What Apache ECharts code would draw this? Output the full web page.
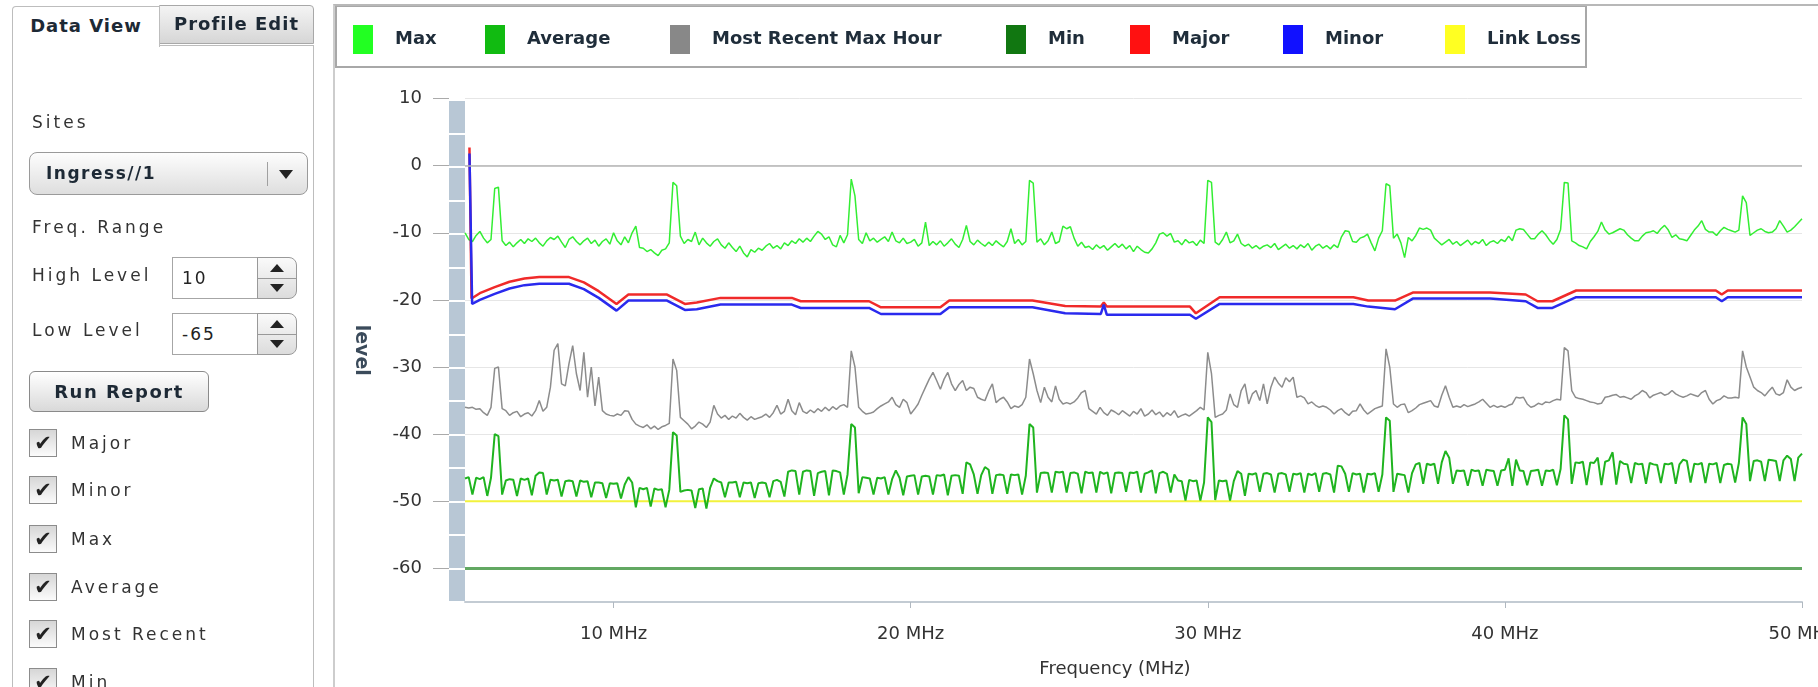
<!DOCTYPE html>
<html>
<head>
<meta charset="utf-8">
<title>Spectrum report</title>
<script src="https://cdn.jsdelivr.net/npm/echarts@6.0.0/dist/echarts.min.js"></script>
<style>
  html, body { margin: 0; padding: 0; background: #fff; }
  body { width: 1818px; height: 687px; overflow: hidden; position: relative; font-family: 'DejaVu Sans', sans-serif; color: #333; }
  #chart { position: absolute; left: 0; top: 0; width: 1818px; height: 687px; }
  #frame { position: absolute; left: 333px; top: 4px; width: 1500px; height: 700px; border-left: 2px solid #cdcdcd; border-top: 2px solid #b8b8b8; pointer-events: none; }

  .tab { position: absolute; box-sizing: border-box; font-weight: bold; font-size: 18px; letter-spacing: 1px; color: #1d2935; text-align: center; }
  #tabData { left: 12px; top: 6px; width: 148px; height: 41px; line-height: 38px; background: #fff; border: 1px solid #bdbdbd; border-bottom: none; border-radius: 4px 0 0 0; z-index: 2; }
  #tabProfile { left: 159px; top: 5px; width: 155px; height: 39px; line-height: 35px; background: linear-gradient(#f4f4f4, #d6d6d6); border: 1px solid #a8a8a8; border-radius: 0 4px 0 0; }
  #panel { position: absolute; left: 12px; top: 45px; width: 302px; height: 700px; box-sizing: border-box; border: 1px solid #bdbdbd; background: #fff; }

  .lbl { position: absolute; height: 24px; line-height: 24px; font-size: 17px; letter-spacing: 3px; color: #333; white-space: nowrap; }

  #sites { position: absolute; left: 29px; top: 152px; width: 279px; height: 43px; box-sizing: border-box; border: 1px solid #9a9a9a; border-radius: 8px; background: linear-gradient(#fdfdfd, #dedede); }
  #sites .val { position: absolute; left: 16px; top: 0; line-height: 41px; font-weight: bold; font-size: 17px; letter-spacing: 1.5px; color: #1d2935; }
  #sites .sep { position: absolute; left: 237px; top: 9px; width: 1px; height: 24px; background: #a0a0a0; }
  #sites .arr { position: absolute; left: 249px; top: 17px; width: 0; height: 0; border-left: 7px solid transparent; border-right: 7px solid transparent; border-top: 9px solid #222; }

  .num { position: absolute; left: 172px; width: 86px; height: 42px; box-sizing: border-box; border: 1px solid #a6a6a6; background: #fff; font-size: 17px; letter-spacing: 2px; line-height: 40px; padding-left: 9px; color: #222; }
  .spin { position: absolute; left: 257px; width: 40px; height: 42px; box-sizing: border-box; border: 1px solid #999; border-radius: 0 8px 8px 0; background: linear-gradient(#fafafa, #dcdcdc); }
  .spin .mid { position: absolute; left: 0; right: 0; top: 20px; height: 1px; background: #999; }
  .spin .up { position: absolute; left: 12px; top: 6px; width: 0; height: 0; border-left: 7px solid transparent; border-right: 7px solid transparent; border-bottom: 8px solid #222; }
  .spin .dn { position: absolute; left: 12px; top: 26px; width: 0; height: 0; border-left: 7px solid transparent; border-right: 7px solid transparent; border-top: 8px solid #222; }

  #run { position: absolute; left: 29px; top: 371px; width: 180px; height: 41px; box-sizing: border-box; border: 1px solid #8a8a8a; border-radius: 6px; background: linear-gradient(#ffffff, #d9d9d9); font-weight: bold; font-size: 18px; letter-spacing: 1.5px; line-height: 39px; text-align: center; color: #1d2935; }

  .cb { position: absolute; left: 29px; width: 28px; height: 28px; box-sizing: border-box; border: 1px solid #8c8c8c; background: linear-gradient(#d6d6d6, #fbfbfb); font-size: 21px; line-height: 26px; text-align: center; color: #222; }
</style>
</head>
<body>
<div id="chart"></div>
<div id="frame"></div>

<div id="panel"></div>
<div class="tab" id="tabData">Data View</div>
<div class="tab" id="tabProfile">Profile Edit</div>

<div class="lbl" style="left:32px; top:110px;">Sites</div>
<div id="sites"><span class="val">Ingress//1</span><span class="sep"></span><span class="arr"></span></div>
<div class="lbl" style="left:32px; top:215px;">Freq. Range</div>

<div class="lbl" style="left:32px; top:263px;">High Level</div>
<div class="num" style="top:257px;">10</div>
<div class="spin" style="top:257px;"><span class="up"></span><span class="mid"></span><span class="dn"></span></div>

<div class="lbl" style="left:32px; top:318px;">Low Level</div>
<div class="num" style="top:313px;">-65</div>
<div class="spin" style="top:313px;"><span class="up"></span><span class="mid"></span><span class="dn"></span></div>

<div id="run">Run Report</div>

<div class="cb" style="top:429px;">✔</div><div class="lbl" style="left:71px; top:431px;">Major</div>
<div class="cb" style="top:476px;">✔</div><div class="lbl" style="left:71px; top:478px;">Minor</div>
<div class="cb" style="top:525px;">✔</div><div class="lbl" style="left:71px; top:527px;">Max</div>
<div class="cb" style="top:573px;">✔</div><div class="lbl" style="left:71px; top:575px;">Average</div>
<div class="cb" style="top:620px;">✔</div><div class="lbl" style="left:71px; top:622px;">Most Recent</div>
<div class="cb" style="top:668px;">✔</div><div class="lbl" style="left:71px; top:670px;">Min</div>

<script>
// sampled traces: one value every 0.125 MHz from 5 MHz to 50 MHz (8 per row)
const freqStart = 5;
const freqEnd = 50;
const freqStep = 0.125;
const freqTicks = [10, 20, 30, 40, 50];

const maxLevel = [
  -10.0, -11.0, -11.3, -10.4, -9.8, -10.8, -11.5, -11.0,   // 5
  -3.4, -3.2, -11.2, -11.9, -11.4, -12.1, -11.5, -11.0,    // 6
  -11.6, -10.9, -11.3, -10.8, -11.5, -12.0, -11.2, -10.7,  // 7
  -11.0, -10.5, -11.4, -12.2, -11.0, -10.6, -11.3, -11.8,  // 8
  -11.2, -10.8, -11.6, -11.1, -12.0, -11.3, -10.9, -11.7,  // 9
  -10.0, -11.2, -11.8, -10.6, -11.5, -10.0, -9.0, -12.2,   // 10
  -12.3, -12.8, -12.5, -13.0, -13.4, -12.6, -12.4, -11.5,  // 11
  -2.5, -3.0, -10.5, -11.6, -11.0, -11.3, -9.9, -11.8,     // 12
  -10.8, -11.5, -12.0, -11.3, -10.9, -11.8, -12.3, -11.5,  // 13
  -12.2, -12.8, -12.0, -13.0, -13.6, -12.5, -12.9, -12.3,  // 14
  -12.6, -12.0, -11.6, -12.3, -11.9, -12.4, -11.5, -11.9,  // 15
  -11.2, -11.6, -10.9, -11.4, -10.8, -11.3, -10.5, -9.8,   // 16
  -10.2, -11.0, -10.6, -11.8, -12.1, -10.4, -11.5, -10.3,  // 17
  -2.0, -4.5, -11.0, -11.6, -10.0, -11.2, -10.8, -11.4,    // 18
  -11.0, -10.6, -11.3, -9.9, -11.2, -11.5, -10.8, -11.6,   // 19
  -11.4, -11.0, -12.0, -11.5, -8.4, -11.9, -11.3, -11.8,   // 20
  -11.2, -12.0, -11.5, -10.9, -11.7, -12.2, -11.0, -8.9,   // 21
  -11.3, -11.8, -11.1, -11.6, -12.0, -11.4, -11.9, -11.2,  // 22
  -11.7, -12.1, -11.3, -9.4, -11.6, -11.0, -11.8, -11.3,   // 23
  -2.2, -2.6, -11.4, -10.9, -11.8, -11.2, -9.9, -11.6,     // 24
  -11.3, -9.0, -9.4, -9.1, -10.8, -12.0, -11.4, -12.2,     // 25
  -12.0, -12.5, -11.8, -12.3, -11.9, -12.6, -12.1, -11.6,  // 26
  -12.2, -11.7, -12.4, -11.9, -12.8, -12.0, -12.5, -12.9,  // 27
  -13.0, -12.4, -11.5, -10.2, -10.0, -10.5, -10.1, -11.4,  // 28
  -11.2, -11.8, -11.0, -11.5, -11.3, -11.9, -11.1, -11.6,  // 29
  -2.2, -2.5, -11.4, -11.8, -11.0, -9.9, -11.5, -11.2,     // 30
  -10.2, -11.6, -12.0, -11.7, -12.3, -11.9, -12.4, -12.0,  // 31
  -11.8, -12.2, -11.6, -12.5, -12.1, -11.7, -12.3, -11.9,  // 32
  -12.4, -11.8, -12.2, -11.6, -12.6, -12.0, -11.7, -12.3,  // 33
  -11.9, -12.4, -11.8, -12.2, -10.6, -9.7, -9.8, -11.3,    // 34
  -11.4, -10.8, -10.6, -10.2, -11.5, -12.7, -10.8, -9.7,   // 35
  -2.7, -3.0, -10.8, -10.2, -11.5, -13.7, -10.7, -11.2,    // 36
  -10.4, -9.3, -9.5, -9.3, -9.6, -10.8, -11.3, -11.8,      // 37
  -11.4, -11.0, -11.7, -11.3, -11.9, -11.5, -11.1, -11.8,  // 38
  -11.3, -11.6, -11.0, -11.9, -11.4, -11.2, -11.6, -11.0,  // 39
  -11.3, -10.5, -11.2, -9.6, -9.4, -9.5, -10.2, -10.9,     // 40
  -10.9, -10.2, -9.7, -10.3, -11.1, -11.7, -11.0, -9.5,    // 41
  -2.5, -2.6, -11.2, -11.5, -11.9, -12.1, -12.4, -11.3,    // 42
  -10.6, -9.8, -8.4, -9.6, -10.2, -10.0, -9.7, -9.4,       // 43
  -9.6, -10.3, -10.8, -11.2, -11.2, -10.5, -10.0, -9.9,    // 44
  -9.7, -10.1, -9.4, -8.9, -9.6, -10.7, -10.3, -10.9,      // 45
  -11.0, -11.2, -10.4, -9.6, -9.0, -8.2, -9.5, -9.9,       // 46
  -9.9, -10.4, -9.7, -9.2, -9.5, -9.7, -9.9, -9.6,         // 47
  -4.5, -5.5, -10.4, -10.0, -9.6, -9.4, -9.8, -10.0,       // 48
  -9.9, -9.4, -8.2, -9.0, -9.9, -9.6, -9.1, -8.5,          // 49
  -7.9                                                     // 50
];

const avgLevel = [
  -46.6, -46.4, -49.0, -46.5, -46.7, -46.4, -49.2, -46.5,  // 5
  -40.0, -40.3, -49.0, -46.9, -46.7, -46.8, -49.2, -46.6,  // 6
  -46.8, -46.6, -49.1, -46.2, -45.7, -45.8, -49.0, -46.8,  // 7
  -46.9, -46.8, -49.3, -47.0, -46.9, -47.0, -49.3, -46.9,  // 8
  -47.1, -47.0, -49.4, -47.2, -47.2, -47.3, -49.5, -47.3,  // 9
  -47.4, -47.3, -49.6, -47.5, -46.4, -47.2, -50.9, -48.0,  // 10
  -48.2, -48.0, -50.8, -48.1, -48.3, -48.2, -50.9, -48.3,  // 11
  -39.7, -40.2, -48.6, -48.4, -48.3, -48.4, -51.0, -48.2,  // 12
  -48.1, -51.1, -48.0, -46.6, -47.0, -47.2, -49.4, -47.2,  // 13
  -47.2, -47.1, -49.4, -47.2, -47.3, -47.2, -49.5, -47.3,  // 14
  -47.2, -47.3, -49.4, -47.0, -46.8, -47.1, -49.3, -45.6,  // 15
  -45.4, -45.5, -49.0, -45.6, -45.4, -45.5, -49.2, -45.8,  // 16
  -45.6, -45.5, -49.1, -45.4, -45.5, -45.7, -49.0, -46.0,  // 17
  -38.5, -39.0, -48.8, -46.4, -46.5, -46.6, -49.0, -46.5,  // 18
  -46.6, -46.4, -49.0, -46.7, -45.4, -46.5, -49.1, -46.3,  // 19
  -46.2, -46.1, -49.0, -46.3, -46.2, -46.3, -49.0, -46.1,  // 20
  -46.2, -46.0, -49.1, -46.2, -46.1, -46.2, -48.9, -44.2,  // 21
  -44.5, -46.0, -48.9, -46.1, -44.9, -45.3, -48.9, -46.1,  // 22
  -46.0, -46.1, -48.9, -46.0, -46.1, -46.0, -49.0, -46.2,  // 23
  -38.5, -39.0, -48.7, -45.8, -45.7, -45.8, -48.7, -45.6,  // 24
  -45.7, -45.6, -48.7, -45.8, -45.7, -45.9, -48.8, -45.6,  // 25
  -45.8, -45.7, -48.7, -45.6, -45.9, -45.7, -48.8, -45.8,  // 26
  -45.7, -45.8, -48.6, -45.7, -45.8, -45.6, -48.7, -45.9,  // 27
  -45.7, -45.4, -48.8, -45.8, -45.6, -45.9, -48.7, -46.0,  // 28
  -46.9, -47.0, -49.9, -46.8, -47.0, -46.9, -49.9, -47.2,  // 29
  -37.5, -38.2, -49.8, -46.9, -47.0, -46.9, -49.9, -47.0,  // 30
  -45.5, -45.9, -49.2, -45.9, -46.0, -45.8, -48.6, -45.9,  // 31
  -45.8, -46.0, -48.7, -45.9, -45.8, -46.0, -48.6, -45.9,  // 32
  -46.0, -45.8, -48.7, -45.9, -46.1, -45.8, -48.6, -45.9,  // 33
  -45.8, -46.0, -48.7, -44.7, -44.8, -45.9, -48.6, -45.8,  // 34
  -46.0, -45.9, -48.7, -45.9, -46.0, -45.8, -48.6, -46.0,  // 35
  -37.5, -38.0, -48.6, -45.9, -46.0, -46.1, -48.7, -45.8,  // 36
  -44.5, -44.3, -47.4, -44.4, -44.6, -44.4, -47.4, -44.2,  // 37
  -42.5, -43.5, -47.4, -45.4, -45.5, -45.4, -47.7, -45.3,  // 38
  -45.5, -45.4, -47.7, -45.3, -45.4, -45.5, -47.7, -45.4,  // 39
  -45.3, -43.6, -47.7, -43.8, -45.4, -45.5, -47.6, -45.5,  // 40
  -45.4, -45.3, -47.7, -45.4, -45.5, -45.3, -47.6, -45.2,  // 41
  -37.2, -37.8, -47.4, -44.2, -44.3, -44.1, -47.6, -44.2,  // 42
  -44.3, -43.5, -47.6, -44.1, -43.9, -42.7, -47.5, -44.0,  // 43
  -44.4, -44.5, -47.3, -44.3, -44.5, -44.4, -47.4, -44.3,  // 44
  -44.5, -44.6, -47.3, -44.4, -44.5, -44.3, -47.4, -44.5,  // 45
  -43.8, -44.0, -47.2, -44.4, -44.5, -44.3, -47.3, -44.4,  // 46
  -44.5, -44.3, -47.3, -44.6, -44.4, -44.5, -47.2, -44.3,  // 47
  -37.5, -38.5, -47.0, -44.0, -43.9, -44.1, -47.0, -43.8,  // 48
  -43.9, -44.0, -47.0, -43.9, -43.2, -43.7, -47.0, -43.5,  // 49
  -42.9                                                    // 50
];

const recentMaxLevel = [
  -36.0, -36.1, -36.0, -36.3, -36.2, -36.8, -37.2, -36.0,  // 5
  -30.2, -30.0, -36.2, -36.5, -37.2, -36.8, -36.6, -37.4,  // 6
  -37.0, -36.8, -37.3, -36.5, -35.0, -36.6, -36.0, -33.0,  // 7
  -27.5, -26.5, -32.5, -32.8, -29.5, -26.8, -31.0, -33.5,  // 8
  -27.8, -34.5, -30.0, -35.8, -31.5, -36.5, -37.0, -37.2,  // 9
  -37.3, -37.0, -37.2, -36.5, -36.6, -37.8, -38.5, -38.8,  // 10
  -39.0, -38.6, -39.2, -38.8, -39.3, -38.9, -38.7, -38.4,  // 11
  -28.8, -30.5, -37.5, -38.0, -38.5, -39.2, -38.8, -38.2,  // 12
  -38.5, -39.0, -38.2, -35.7, -37.0, -37.6, -37.2, -37.8,  // 13
  -37.3, -37.6, -36.9, -37.5, -37.9, -37.4, -37.8, -37.6,  // 14
  -37.4, -37.0, -37.5, -36.8, -35.7, -37.0, -36.6, -34.8,  // 15
  -36.5, -37.1, -35.3, -36.6, -36.9, -36.4, -36.8, -36.2,  // 16
  -36.6, -36.0, -36.5, -35.9, -36.3, -35.8, -35.6, -36.0,  // 17
  -27.6, -30.0, -36.0, -36.6, -37.0, -36.9, -36.7, -36.2,  // 18
  -35.8, -35.5, -35.2, -34.5, -35.6, -36.0, -34.8, -35.3,  // 19
  -37.0, -36.3, -35.5, -34.2, -33.0, -31.8, -30.8, -32.0,  // 20
  -33.3, -31.8, -30.8, -32.5, -33.5, -32.6, -32.0, -33.5,  // 21
  -33.0, -33.2, -34.5, -34.8, -35.0, -33.6, -32.5, -35.3,  // 22
  -34.8, -34.5, -35.2, -36.2, -35.8, -36.0, -35.6, -34.5,  // 23
  -28.8, -31.0, -33.5, -35.3, -33.0, -34.5, -35.2, -32.8,  // 24
  -34.8, -35.5, -35.3, -35.5, -35.2, -34.6, -33.8, -33.5,  // 25
  -36.2, -36.6, -37.0, -36.0, -36.8, -37.2, -36.4, -36.7,  // 26
  -37.1, -36.5, -36.9, -37.3, -36.6, -37.0, -36.2, -37.3,  // 27
  -37.0, -36.4, -37.1, -36.7, -37.4, -36.8, -37.2, -36.5,  // 28
  -37.5, -37.2, -37.0, -37.3, -36.9, -36.5, -36.0, -36.4,  // 29
  -27.8, -31.0, -37.5, -37.2, -37.0, -36.4, -34.0, -35.6,  // 30
  -36.0, -33.5, -32.5, -35.5, -34.0, -33.5, -35.0, -32.5,  // 31
  -35.5, -33.0, -31.5, -32.4, -33.0, -31.6, -32.2, -31.5,  // 32
  -34.5, -34.3, -34.6, -35.5, -35.2, -35.7, -36.0, -35.8,  // 33
  -36.0, -36.4, -37.0, -36.5, -36.2, -36.8, -37.2, -36.6,  // 34
  -36.5, -35.5, -36.4, -37.0, -36.6, -36.2, -36.0, -35.8,  // 35
  -27.3, -30.0, -35.5, -36.0, -35.6, -35.5, -36.8, -36.5,  // 36
  -36.1, -35.6, -35.4, -35.2, -35.0, -35.8, -36.0, -34.2,  // 37
  -32.8, -34.5, -36.0, -35.8, -36.0, -35.6, -35.9, -35.7,  // 38
  -35.5, -35.2, -34.8, -35.4, -36.0, -35.7, -36.0, -35.8,  // 39
  -36.0, -35.7, -35.5, -34.5, -34.6, -34.5, -35.5, -36.0,  // 40
  -35.8, -35.4, -35.6, -35.2, -35.3, -35.0, -34.8, -34.9,  // 41
  -27.1, -27.6, -33.5, -34.5, -34.7, -34.8, -35.0, -35.2,  // 42
  -35.3, -35.5, -35.4, -34.5, -34.4, -34.2, -34.1, -34.5,  // 43
  -34.4, -34.6, -34.8, -34.3, -34.0, -33.5, -33.8, -34.6,  // 44
  -34.2, -34.0, -33.8, -34.2, -34.0, -33.5, -34.0, -34.3,  // 45
  -34.5, -34.3, -34.0, -34.2, -34.4, -33.8, -33.5, -34.8,  // 46
  -35.5, -35.0, -34.8, -34.3, -34.6, -34.6, -34.5, -34.6,  // 47
  -27.6, -30.0, -31.5, -33.0, -33.5, -33.8, -34.3, -33.6,  // 48
  -33.0, -34.0, -34.2, -33.8, -31.9, -33.0, -33.5, -33.2,  // 49
  -33.0                                                    // 50
];

// alarm thresholds: [frequency MHz, level]
const majorLevel = [
  [5.15, 2.7], [5.22, -19.8], [5.5, -19.0], [6.0, -18.1], [6.5, -17.3], [7.0, -16.8],
  [7.5, -16.6], [8.5, -16.6], [9.0, -17.4], [9.5, -18.7], [10.1, -20.6], [10.5, -19.2],
  [11.8, -19.2], [12.4, -20.6], [12.8, -20.4], [13.6, -19.7], [16.0, -19.7], [16.3, -20.2],
  [18.6, -20.2], [19.0, -21.1], [21.0, -21.1], [21.3, -20.1], [24.1, -20.1], [25.2, -20.9],
  [26.4, -21.0], [26.5, -20.4], [26.6, -21.0], [29.4, -21.0], [29.6, -22.0], [30.4, -19.6],
  [34.9, -19.6], [35.4, -20.1], [36.3, -20.1], [36.9, -18.9], [39.5, -18.9], [40.7, -19.2],
  [41.1, -20.2], [41.6, -20.2], [42.4, -18.6], [47.1, -18.6], [47.3, -19.2], [47.5, -18.6],
  [50.0, -18.6]
];
const minorLevel = [
  [5.15, 1.8], [5.24, -20.6], [5.5, -20.0], [6.0, -19.1], [6.5, -18.3], [7.0, -17.8],
  [7.5, -17.6], [8.5, -17.6], [9.0, -18.4], [9.5, -19.7], [10.1, -21.6], [10.5, -20.1],
  [11.8, -20.1], [12.4, -21.5], [12.8, -21.4], [13.6, -20.7], [16.0, -20.7], [16.3, -21.2],
  [18.6, -21.2], [19.0, -22.1], [21.0, -22.1], [21.3, -21.1], [24.1, -21.1], [25.2, -22.0],
  [26.4, -22.1], [26.5, -20.7], [26.6, -22.2], [29.4, -22.2], [29.6, -22.8], [30.4, -20.6],
  [34.9, -20.6], [35.4, -21.0], [36.3, -21.4], [36.9, -19.8], [39.5, -19.8], [40.7, -20.2],
  [41.1, -21.2], [41.6, -21.2], [42.4, -19.6], [47.1, -19.6], [47.3, -20.2], [47.5, -19.6],
  [50.0, -19.6]
];

const minLevel = -60;
const linkLossLevel = -50;
const zeroLevel = 0;

const legendNames = ['Max', 'Average', 'Most Recent Max Hour', 'Min', 'Major', 'Minor', 'Link Loss'];
const legendColors = ['#22ff22', '#11bb11', '#888888', '#117711', '#ff1111', '#1111ff', '#ffff22'];
// left edge of each legend swatch inside the legend box
const legendLeft = [353, 485, 670, 1006, 1130, 1283, 1445];

const sampled = arr => arr.map((v, i) => [freqStart + i * freqStep, v]);
const flat = v => [[freqStart, v], [freqEnd, v]];
const font = 'DejaVu Sans';

const chart = echarts.init(document.getElementById('chart'));

function lineSeries(name, data, color, width) {
  return {
    name: name,
    type: 'line',
    data: data,
    symbol: 'none',
    silent: true,
    lineStyle: { color: color, width: width },
    itemStyle: { color: color }
  };
}

const linkLoss = lineSeries('Link Loss', flat(linkLossLevel), '#f2f23c', 2);
// darker reference line at level 0
linkLoss.markLine = {
  silent: true,
  symbol: 'none',
  label: { show: false },
  lineStyle: { color: '#b4b4b4', width: 1.5, type: 'solid' },
  data: [{ yAxis: zeroLevel }]
};

// one legend per entry so every swatch sits where the original puts it
const legends = legendNames.map((n, i) => ({
  left: legendLeft[i],
  top: 25,
  padding: 0,
  itemWidth: 20,
  itemHeight: 29,
  icon: 'rect',
  selectedMode: false,
  z: 10,
  textStyle: {
    fontFamily: font,
    fontWeight: 'bold',
    fontSize: 18,
    color: '#1f2d3a',
    padding: [0, 0, 0, 17]
  },
  data: [{ name: n, itemStyle: { color: legendColors[i] } }]
}));

chart.setOption({
  animation: false,
  graphic: [{
    // legend box
    type: 'rect',
    left: 335,
    top: 5,
    z: 1,
    shape: { width: 1250, height: 61 },
    style: { fill: '#fff', stroke: '#a8a8a8', lineWidth: 2 }
  }],
  legend: legends,
  grid: [
    { left: 465, right: 16, top: 98.5, bottom: 85, outerBoundsMode: 'none' },
    // shaded strip left of the plot
    { left: 449, width: 16, top: 100, bottom: 85, show: true, backgroundColor: '#b8c7d5', borderWidth: 0, outerBoundsMode: 'none' }
  ],
  xAxis: [
    {
      type: 'value',
      min: freqStart,
      max: freqEnd,
      axisLine: { onZero: false, lineStyle: { color: '#c3cbd3', width: 2 } },
      axisTick: { customValues: freqTicks, length: 6, lineStyle: { color: '#b0b8c0' } },
      axisLabel: {
        customValues: freqTicks,
        formatter: '{value} MHz',
        margin: 23,
        fontFamily: font,
        fontSize: 18,
        color: '#333'
      },
      splitLine: { show: false },
      name: 'Frequency (MHz)',
      nameLocation: 'middle',
      nameGap: 58,
      nameTextStyle: { fontFamily: font, fontSize: 18, color: '#333', padding: [0, 37, 0, 0] }
    },
    { gridIndex: 1, type: 'value', min: 0, max: 1, show: false }
  ],
  yAxis: [
    {
      type: 'value',
      min: -65,
      max: 10,
      splitNumber: 8,
      offset: 16,
      axisLine: { show: false, onZero: false },
      axisTick: { show: true, length: 16, lineStyle: { color: '#aaaaaa' } },
      axisLabel: { showMinLabel: false, margin: 27, fontFamily: font, fontSize: 18, color: '#333' },
      splitLine: { show: true, showMinLine: false, lineStyle: { color: '#e6e6e6', width: 1 } },
      name: 'level',
      nameLocation: 'middle',
      nameRotate: -90,
      nameGap: 79,
      nameTextStyle: { fontFamily: font, fontSize: 19, fontWeight: 'bold', color: '#3b4b5b' }
    },
    {
      gridIndex: 1,
      type: 'value',
      min: -65,
      max: 10,
      interval: 5,
      axisLine: { show: false },
      axisTick: { show: false },
      axisLabel: { show: false },
      splitLine: { show: true, lineStyle: { color: '#ffffff', width: 2 } }
    }
  ],
  series: [
    lineSeries('Min', flat(minLevel), '#62a862', 3),
    linkLoss,
    lineSeries('Average', sampled(avgLevel), '#1fb41f', 2),
    lineSeries('Most Recent Max Hour', sampled(recentMaxLevel), '#8c8c8c', 1.5),
    lineSeries('Max', sampled(maxLevel), '#33ee33', 1.5),
    lineSeries('Major', majorLevel, '#f02a2a', 2.5),
    lineSeries('Minor', minorLevel, '#2a2aee', 2.5)
  ]
});
</script>
</body>
</html>
